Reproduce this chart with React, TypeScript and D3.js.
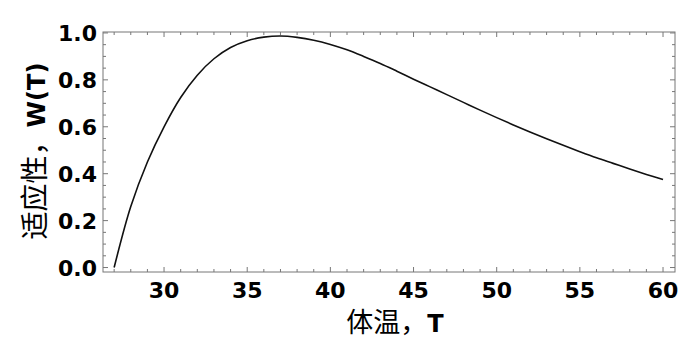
import React from "react";
import * as d3 from "d3";

const temps = [27, 28, 29, 30, 31, 32, 33, 34, 35, 36, 37, 38, 39, 40, 41, 42, 43, 44, 45, 46, 47, 48, 49, 50, 51, 52, 53, 54, 55, 56, 57, 58, 59, 60];
const fitness = [0, 0.26, 0.45, 0.6, 0.725, 0.82, 0.89, 0.938, 0.967, 0.982, 0.987, 0.981, 0.969, 0.951, 0.928, 0.9, 0.87, 0.837, 0.803, 0.77, 0.737, 0.704, 0.671, 0.639, 0.608, 0.578, 0.549, 0.521, 0.494, 0.468, 0.444, 0.42, 0.397, 0.375];
const xTicks = [30, 35, 40, 45, 50, 55, 60];
const yTicks = [0, 0.2, 0.4, 0.6, 0.8, 1.0];
const xLabel = "体温，";
const xLabelVar = "T";
const yLabel = "适应性，";
const yLabelVar = "W(T)";

const W = 700;
const H = 347;
const L = 103, R = 675, T = 32, B = 272;

export default function App() {
  const x = d3.scaleLinear().domain([26.33, 60.72]).range([L, R]);
  const y = d3.scaleLinear().domain([-0.019, 1.004]).range([B, T]);
  const data = temps.map((t, i) => [t, fitness[i]] as [number, number]);
  const line = d3
    .line<[number, number]>()
    .x((d) => x(d[0]))
    .y((d) => y(d[1]))
    .curve(d3.curveCatmullRom.alpha(0.5));

  const xMinor = d3.range(27, 61, 1);
  const yMinor = d3.range(0, 1.001, 0.05);
  const frameColor = "#777";
  const tickFont = "'DejaVu Sans', Verdana, sans-serif";
  const cjkFont = "'Noto Sans CJK SC', sans-serif";

  return (
    <svg width={W} height={H} style={{ position: "absolute", left: 0, top: 0, background: "#fff" }}>
      <rect x={0} y={0} width={W} height={H} fill="#fff" />
      {xMinor.map((t) => {
        const major = t % 5 === 0;
        const len = major ? 5 : 3;
        return (
          <g key={"xt" + t} stroke={frameColor} strokeWidth={1}>
            <line x1={x(t)} x2={x(t)} y1={B} y2={B - len} />
            <line x1={x(t)} x2={x(t)} y1={T} y2={T + len} />
          </g>
        );
      })}
      {yMinor.map((v, i) => {
        const major = i % 4 === 0;
        const len = major ? 5 : 3;
        return (
          <g key={"yt" + i} stroke={frameColor} strokeWidth={1}>
            <line x1={L} x2={L + len} y1={y(v)} y2={y(v)} />
            <line x1={R} x2={R - len} y1={y(v)} y2={y(v)} />
          </g>
        );
      })}
      <rect x={L} y={T} width={R - L} height={B - T} fill="none" stroke={frameColor} strokeWidth={1} />
      <path d={line(data) || ""} fill="none" stroke="#111" strokeWidth={1.6} />
      {xTicks.map((t) => (
        <text key={"xl" + t} x={x(t)} y={298} textAnchor="middle" fontFamily={tickFont} fontWeight="bold" fontSize={22} fill="#000">
          {t}
        </text>
      ))}
      {yTicks.map((v) => (
        <text key={"yl" + v} x={97} y={y(v) + 8} textAnchor="end" fontFamily={tickFont} fontWeight="bold" fontSize={22} fill="#000">
          {v.toFixed(1)}
        </text>
      ))}
      <text x={395} y={332} textAnchor="middle" fill="#000">
        <tspan fontFamily={cjkFont} fontSize={27}>{xLabel}</tspan>
        <tspan fontFamily={tickFont} fontWeight="bold" fontSize={24}>{xLabelVar}</tspan>
      </text>
      <text transform="translate(45,151) rotate(-90)" textAnchor="middle" fill="#000">
        <tspan fontFamily={cjkFont} fontSize={28}>{yLabel}</tspan>
        <tspan fontFamily={tickFont} fontWeight="bold" fontSize={24}>{yLabelVar}</tspan>
      </text>
    </svg>
  );
}
